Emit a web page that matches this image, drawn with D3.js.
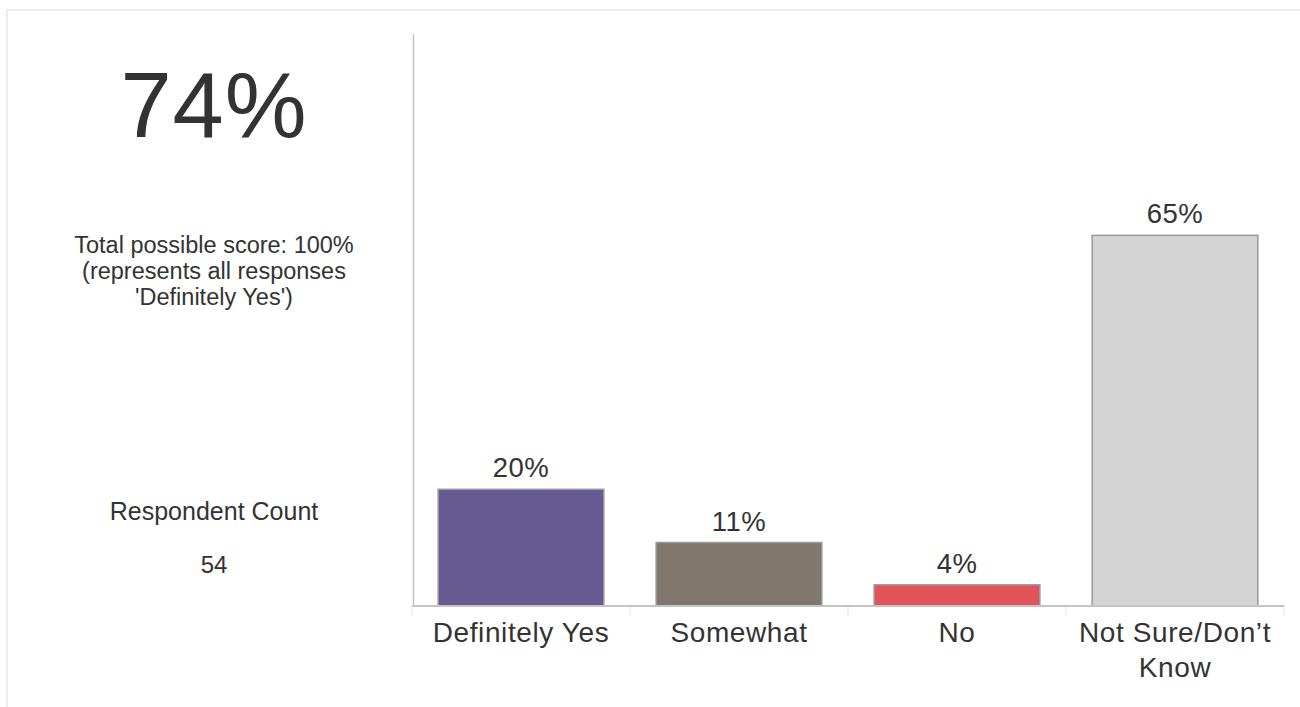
<!DOCTYPE html>
<html>
<head>
<meta charset="utf-8">
<script src="https://cdn.jsdelivr.net/npm/d3@7"></script>
<style>
  body { margin: 0; background: #fff; }
  text { font-family: "Liberation Sans", Arial, sans-serif; fill: #333; }
</style>
</head>
<body>
<svg width="1300" height="707"></svg>
<script>
const categories = ['Definitely Yes', 'Somewhat', 'No', 'Not Sure/Don\u2019t Know']
const values = [20.4, 11.1, 3.7, 64.8]
const valueLabels = ['20%', '11%', '4%', '65%']
const colors = ['#675a92', '#80786d', '#e0545a', '#d4d4d4']
const catLines = [['Definitely Yes'], ['Somewhat'], ['No'], ['Not Sure/Don\u2019t', 'Know']]

const score = '74%'
const scoreNote = ['Total possible score: 100%', '(represents all responses', '\'Definitely Yes\')']
const countTitle = 'Respondent Count'
const countValue = '54'

const svg = d3.select('svg')

// outer panel border
svg.append('rect')
    .attr('x', 7).attr('y', 10)
    .attr('width', 1310).attr('height', 720)
    .style('fill', 'none')
    .style('stroke', '#ececec')
    .style('stroke-width', 2)

// left summary panel
const cx = 214
svg.append('text')
    .attr('x', cx).attr('y', 137)
    .attr('text-anchor', 'middle')
    .style('font-size', '92px')
    .style('letter-spacing', '1px')
    .text(score)

svg.append('text')
    .attr('text-anchor', 'middle')
    .style('font-size', '23.5px')
    .selectAll('tspan')
    .data(scoreNote)
    .join('tspan')
    .attr('x', cx)
    .attr('y', (d, i) => 253 + i * 26)
    .text(d => d)

svg.append('text')
    .attr('x', cx).attr('y', 520)
    .attr('text-anchor', 'middle')
    .style('font-size', '25px')
    .text(countTitle)

svg.append('text')
    .attr('x', cx).attr('y', 573)
    .attr('text-anchor', 'middle')
    .style('font-size', '24px')
    .text(countValue)

// bar chart
const x = d3.scaleBand()
    .domain(categories)
    .range([412, 1284])
    .paddingInner(0.24)
    .paddingOuter(0.12)

const y = d3.scaleLinear()
    .domain([0, 100])
    .range([606, 34])

// category boundary ticks
const bounds = d3.range(categories.length + 1).map(i => 412 + i * (1284 - 412) / categories.length)
svg.append('g')
    .selectAll('line')
    .data(bounds)
    .join('line')
    .attr('x1', d => d).attr('x2', d => d)
    .attr('y1', y(0)).attr('y2', y(0) + 9)
    .style('stroke', '#e2e2e2')
    .style('stroke-width', 1)

svg.append('g')
    .selectAll('rect')
    .data(values)
    .join('rect')
    .attr('x', (d, i) => x(categories[i]))
    .attr('y', d => y(d))
    .attr('width', x.bandwidth())
    .attr('height', d => y(0) - y(d))
    .style('fill', (d, i) => colors[i])
    .style('stroke', '#999')
    .style('stroke-width', 1.5)

svg.append('g')
    .selectAll('text')
    .data(values)
    .join('text')
    .attr('x', (d, i) => x(categories[i]) + x.bandwidth() / 2)
    .attr('y', d => y(d) - 12)
    .attr('text-anchor', 'middle')
    .style('font-size', '27.5px')
    .style('letter-spacing', '0.5px')
    .text((d, i) => valueLabels[i])

// axes lines
svg.append('line')
    .attr('x1', 413.5).attr('x2', 413.5)
    .attr('y1', y(100)).attr('y2', y(0))
    .style('stroke', '#c4c4c4')
    .style('stroke-width', 1.5)

svg.append('line')
    .attr('x1', 412).attr('x2', 1284)
    .attr('y1', y(0)).attr('y2', y(0))
    .style('stroke', '#c4c4c4')
    .style('stroke-width', 2)

// category labels
const labels = svg.append('g')
    .selectAll('text')
    .data(categories)
    .join('text')
    .attr('text-anchor', 'middle')
    .style('font-size', '28px')
    .style('letter-spacing', '0.6px')

labels.selectAll('tspan')
    .data((d, i) => catLines[i].map(t => ({ t, c: d })))
    .join('tspan')
    .attr('x', d => x(d.c) + x.bandwidth() / 2)
    .attr('y', (d, i) => 642 + i * 35)
    .text(d => d.t)
</script>
</body>
</html>
